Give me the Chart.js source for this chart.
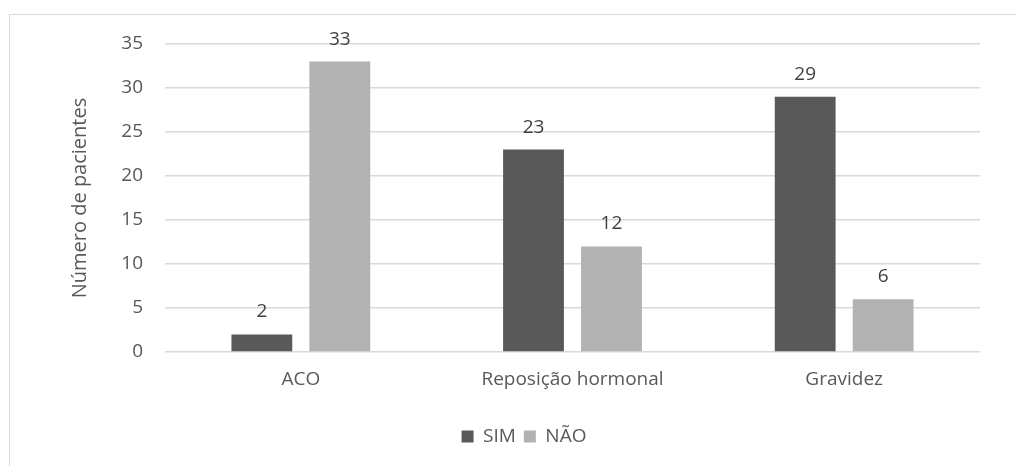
<!DOCTYPE html>
<html>
<head>
<meta charset="utf-8">
<script src="https://cdn.jsdelivr.net/npm/chart.js@4.4.1/dist/chart.umd.min.js"></script>
<style>
  html, body { margin: 0; padding: 0; background: #fff; overflow: hidden; }
  #frame { position: absolute; left: 9px; top: 14px; width: 1100px; height: 500px; border: 1px solid #d9d9d9; }
  #wrap { position: absolute; left: 0; top: 0; width: 1016px; height: 466px; }
</style>
</head>
<body>
<div id="frame"></div>
<div id="wrap"><canvas id="chart" width="1016" height="466"></canvas></div>
<script>
// chart data
const categories = ['ACO', 'Reposição hormonal', 'Gravidez'];
const simValues = [2, 23, 29];
const naoValues = [33, 12, 6];
const seriesNames = ['SIM', 'NÃO'];
const yTicks = [0, 5, 10, 15, 20, 25, 30, 35];

const textColor = '#595959';
const fontFamily = "'Open Sans', 'Noto Sans', sans-serif";

// draws the value above each bar
const valueLabels = {
  id: 'valueLabels',
  afterDatasetsDraw(chart) {
    const ctx = chart.ctx;
    ctx.save();
    ctx.fillStyle = '#404040';
    ctx.font = '19px ' + fontFamily;
    ctx.textAlign = 'center';
    ctx.textBaseline = 'bottom';
    chart.data.datasets.forEach((ds, i) => {
      chart.getDatasetMeta(i).data.forEach((bar, j) => {
        ctx.fillText(ds.data[j], bar.x, bar.y - 13);
      });
    });
    ctx.restore();
  }
};

window.onload = function () {
  const ctx = document.getElementById('chart').getContext('2d');
  new Chart(ctx, {
    type: 'bar',
    data: {
      labels: categories,
      datasets: [
        { label: seriesNames[0], data: simValues, backgroundColor: '#595959' },
        { label: seriesNames[1], data: naoValues, backgroundColor: '#b2b2b2' }
      ]
    },
    options: {
      responsive: false,
      animation: false,
      datasets: { bar: { categoryPercentage: 0.574, barPercentage: 0.78 } },
      layout: { padding: { left: 68, right: 36, top: 44, bottom: 10 } },
      scales: {
        x: {
          grid: { display: false },
          border: { display: false },
          ticks: { color: textColor, font: { size: 19, family: fontFamily }, padding: 8 },
          afterFit: (scale) => { scale.height = 67; }
        },
        y: {
          min: 0,
          max: 35,
          afterBuildTicks: (scale) => { scale.ticks = yTicks.map(v => ({ value: v })); },
          afterFit: (scale) => { scale.width = 97; },
          grid: { color: '#d9d9d9', drawTicks: false, lineWidth: 1.5 },
          border: { display: false },
          ticks: { color: textColor, font: { size: 19, family: fontFamily }, padding: 22 },
          title: {
            display: true,
            text: 'Número de pacientes',
            color: textColor,
            font: { size: 20, family: fontFamily },
            padding: { top: 0, bottom: 0 }
          }
        }
      },
      plugins: {
        legend: {
          position: 'bottom',
          labels: {
            color: textColor,
            font: { size: 19, family: fontFamily },
            boxWidth: 12,
            boxHeight: 12,
            padding: 8
          }
        },
        tooltip: { enabled: false }
      }
    },
    plugins: [valueLabels]
  });
};
</script>
</body>
</html>
